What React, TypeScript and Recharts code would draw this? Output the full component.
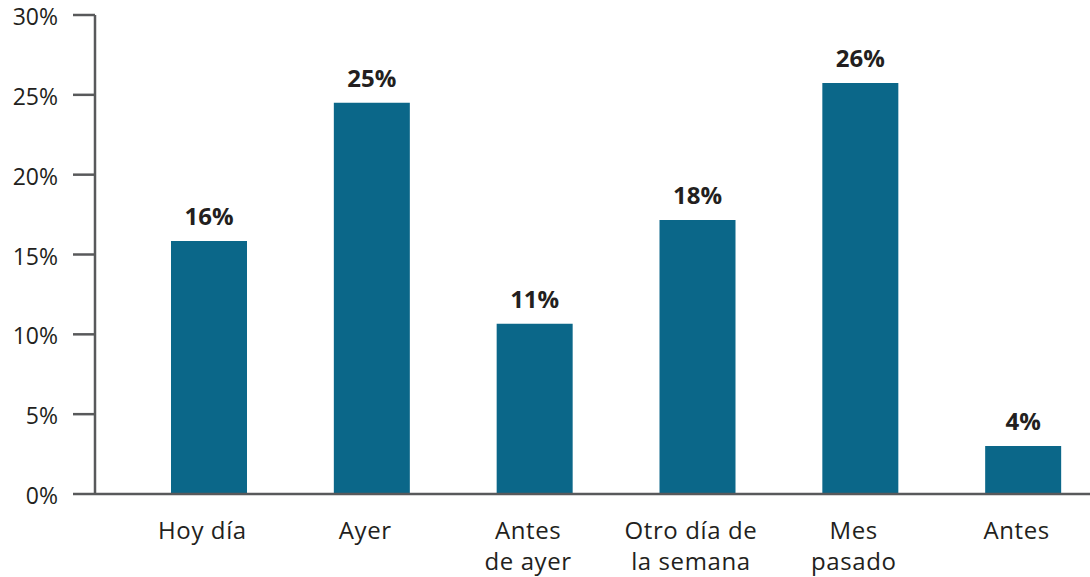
import { BarChart, Bar, XAxis, YAxis, LabelList } from 'recharts';

const categories = ['Hoy día', 'Ayer', 'Antes de ayer', 'Otro día de la semana', 'Mes pasado', 'Antes'];
const tickLines = [['Hoy día'], ['Ayer'], ['Antes', 'de ayer'], ['Otro día de', 'la semana'], ['Mes', 'pasado'], ['Antes']];
const shares = [15.85, 24.5, 10.67, 17.16, 25.74, 3.0];
const shareLabels = ['16%', '25%', '11%', '18%', '26%', '4%'];
const yTicks = [0, 5, 10, 15, 20, 25, 30];

const data = categories.map((name, i) => ({ name, value: shares[i], label: shareLabels[i] }));

const FONT = '"Open Sans", "Noto Sans", sans-serif';
const AXIS = '#58595b';
const INK = '#231f20';

// category labels: one or two lines under the axis, nudged a little left like the original
function CategoryTick({ x, y, index }: any) {
  const lines = tickLines[index] || [];
  return (
    <text x={x - 7} y={y} textAnchor="middle" fill={INK} fontSize={24} letterSpacing={0.6} fontFamily={FONT}>
      {lines.map((l, i) => (
        <tspan key={i} x={x - 7} dy={i === 0 ? 37 : 31}>
          {l}
        </tspan>
      ))}
    </text>
  );
}

export default function App() {
  return (
    <div style={{ position: 'absolute', left: 0, top: 0, width: 1090, height: 577, overflow: 'hidden', background: '#fff' }}>
      <BarChart width={1105} height={577} data={data} margin={{ top: 15, right: 0, bottom: 0, left: 0 }}>
        <XAxis
          dataKey="name"
          height={83}
          padding={{ left: 33, right: 0 }}
          axisLine={{ stroke: AXIS, strokeWidth: 2.5 }}
          tickLine={false}
          tick={<CategoryTick />}
          interval={0}
        />
        <YAxis
          domain={[0, 30]}
          ticks={yTicks}
          width={95}
          tickSize={22}
          tickMargin={15}
          tickFormatter={(v: number) => `${v}%`}
          axisLine={{ stroke: AXIS, strokeWidth: 2.5 }}
          tickLine={{ stroke: AXIS, strokeWidth: 2.5 }}
          tick={{ fill: INK, fontSize: 23, fontFamily: FONT, dy: 2 }}
          interval={0}
        />
        <Bar dataKey="value" fill="#0b6789" barSize={76} isAnimationActive={false}>
          <LabelList
            dataKey="label"
            position="top"
            offset={16}
            fill={INK}
            fontSize={24}
            fontWeight={700}
            fontFamily={FONT}
          />
        </Bar>
      </BarChart>
    </div>
  );
}
